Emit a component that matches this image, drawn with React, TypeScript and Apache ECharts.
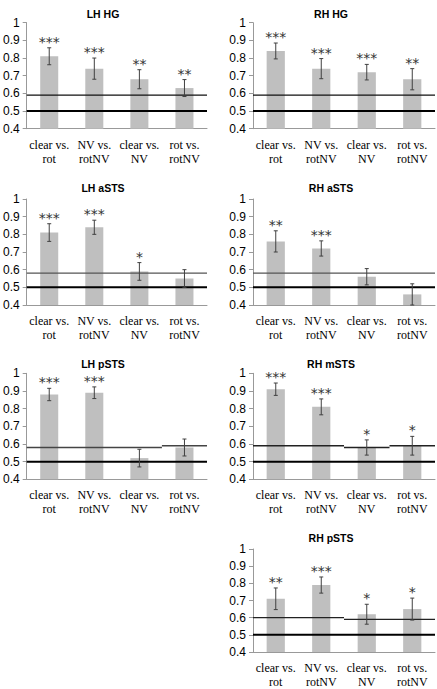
import React, { useEffect, useRef } from "react";
import * as echarts from "echarts";

const categories = ["clear vs.\nrot", "NV vs.\nrotNV", "clear vs.\nNV", "rot vs.\nrotNV"];
const yTicks = [0.4, 0.5, 0.6, 0.7, 0.8, 0.9, 1];

const panelTitles = ["LH HG", "RH HG", "LH aSTS", "RH aSTS", "LH pSTS", "RH mSTS", "RH pSTS"];

const meansLhHg = [0.81, 0.74, 0.68, 0.63];
const errLhHg = [0.048, 0.06, 0.054, 0.048];
const starsLhHg = ["***", "***", "**", "**"];
const threshLhHg = [[0, 3, 0.59]];

const meansRhHg = [0.84, 0.74, 0.72, 0.68];
const errRhHg = [0.045, 0.057, 0.044, 0.06];
const starsRhHg = ["***", "***", "***", "**"];
const threshRhHg = [[0, 3, 0.59]];

const meansLhASts = [0.81, 0.84, 0.59, 0.55];
const errLhASts = [0.05, 0.04, 0.05, 0.05];
const starsLhASts = ["***", "***", "*", ""];
const threshLhASts = [[0, 3, 0.58]];

const meansRhASts = [0.76, 0.72, 0.56, 0.46];
const errRhASts = [0.06, 0.043, 0.046, 0.06];
const starsRhASts = ["**", "***", "", ""];
const threshRhASts = [[0, 3, 0.58]];

const meansLhPSts = [0.88, 0.89, 0.52, 0.58];
const errLhPSts = [0.035, 0.033, 0.05, 0.048];
const starsLhPSts = ["***", "***", "", ""];
const threshLhPSts = [[0, 2, 0.58], [3, 3, 0.59]];

const meansRhMSts = [0.91, 0.81, 0.58, 0.59];
const errRhMSts = [0.035, 0.045, 0.043, 0.053];
const starsRhMSts = ["***", "***", "*", "*"];
const threshRhMSts = [[0, 1, 0.59], [2, 2, 0.58], [3, 3, 0.59]];

const meansRhPSts = [0.71, 0.79, 0.62, 0.65];
const errRhPSts = [0.063, 0.047, 0.058, 0.064];
const starsRhPSts = ["**", "***", "*", "*"];
const threshRhPSts = [[0, 1, 0.6], [2, 3, 0.59]];

const chanceLevel = 0.5;

const panels = [
  { means: meansLhHg, err: errLhHg, stars: starsLhHg, thresh: threshLhHg },
  { means: meansRhHg, err: errRhHg, stars: starsRhHg, thresh: threshRhHg },
  { means: meansLhASts, err: errLhASts, stars: starsLhASts, thresh: threshLhASts },
  { means: meansRhASts, err: errRhASts, stars: starsRhASts, thresh: threshRhASts },
  { means: meansLhPSts, err: errLhPSts, stars: starsLhPSts, thresh: threshLhPSts },
  { means: meansRhMSts, err: errRhMSts, stars: starsRhMSts, thresh: threshRhMSts },
  { means: meansRhPSts, err: errRhPSts, stars: starsRhPSts, thresh: threshRhPSts },
];

// layout (pixels)
const gridPos = [
  { left: 25, top: 22.7 },
  { left: 253, top: 22.7 },
  { left: 25, top: 199 },
  { left: 253, top: 199 },
  { left: 25, top: 373.3 },
  { left: 253, top: 373.3 },
  { left: 253, top: 549 },
];
const titlePos = [
  [103, 14], [331, 14], [103, 188], [331, 188], [103, 364], [331, 364], [331, 538],
];
const threshColors = ["#111", "#111", "#555", "#555", "#444", "#222", "#222"];

export default function App() {
  const ref = useRef<HTMLDivElement>(null);
  useEffect(() => {
    if (!ref.current) return;
    const chart = echarts.init(ref.current, null, { renderer: "svg" });
    const grid: any[] = [];
    const xAxis: any[] = [];
    const yAxis: any[] = [];
    const series: any[] = [];
    const graphic: any[] = [];

    panels.forEach((p, i) => {
      grid.push({ left: gridPos[i].left, top: gridPos[i].top, width: 182, height: 106 });
      xAxis.push({
        type: "category",
        gridIndex: i,
        data: categories,
        axisLine: { lineStyle: { color: "#999", width: 1 } },
        axisTick: { length: 4, lineStyle: { color: "#999" } },
        axisLabel: {
          interval: 0,
          fontFamily: "Liberation Serif",
          fontSize: 12,
          lineHeight: 14,
          color: "#000",
          margin: 9,
        },
      });
      yAxis.push({
        type: "value",
        gridIndex: i,
        min: yTicks[0],
        max: yTicks[yTicks.length - 1],
        interval: 0.1,
        splitLine: { show: false },
        axisLine: { show: true, lineStyle: { color: "#999" } },
        axisTick: { show: true, length: 4, lineStyle: { color: "#999" } },
        axisLabel: {
          fontFamily: "Liberation Sans",
          fontSize: 12,
          color: "#000",
          margin: 7,
          formatter: (v: number) => String(Math.round(v * 10) / 10),
        },
      });
      series.push({
        type: "bar",
        xAxisIndex: i,
        yAxisIndex: i,
        data: p.means,
        barWidth: "40%",
        itemStyle: { color: "#bfbfbf" },
        silent: true,
      });
      const lineColor = threshColors[i];
      const segRender = (width: number, color: string) => (params: any, api: any) => {
        const band = api.size([1, 0])[0];
        const a = api.coord([api.value(0), api.value(2)]);
        const b = api.coord([api.value(1), api.value(2)]);
        return {
          type: "line",
          shape: { x1: a[0] - band / 2, y1: a[1], x2: b[0] + band / 2, y2: b[1] },
          style: { stroke: color, lineWidth: width },
        };
      };
      series.push({
        type: "custom",
        xAxisIndex: i,
        yAxisIndex: i,
        data: p.thresh,
        encode: { x: 0, y: 2 },
        itemStyle: { color: lineColor },
        renderItem: segRender(1.3, lineColor),
        silent: true,
        z: 3,
      });
      series.push({
        type: "custom",
        xAxisIndex: i,
        yAxisIndex: i,
        data: [[0, 3, chanceLevel]],
        encode: { x: 0, y: 2 },
        itemStyle: { color: "#000" },
        renderItem: segRender(2, "#000"),
        silent: true,
        z: 3,
      });
      const stars = p.stars;
      series.push({
        type: "custom",
        xAxisIndex: i,
        yAxisIndex: i,
        data: p.means.map((m, j) => [j, m - p.err[j], m + p.err[j]]),
        encode: { x: 0, y: [1, 2] },
        itemStyle: { color: "#333" },
        renderItem: (params: any, api: any) => {
          const lo = api.coord([api.value(0), api.value(1)]);
          const hi = api.coord([api.value(0), api.value(2)]);
          const x = lo[0];
          const c = 2;
          const st = { stroke: "#404040", lineWidth: 1 };
          const children: any[] = [
            { type: "line", shape: { x1: x, y1: lo[1], x2: x, y2: hi[1] }, style: st },
            { type: "line", shape: { x1: x - c, y1: lo[1], x2: x + c, y2: lo[1] }, style: st },
            { type: "line", shape: { x1: x - c, y1: hi[1], x2: x + c, y2: hi[1] }, style: st },
          ];
          const s = stars[params.dataIndex];
          if (s) {
            children.push({
              type: "text",
              x: x,
              y: hi[1] + 1,
              style: {
                text: s,
                align: "center",
                verticalAlign: "bottom",
                font: '14px "DejaVu Sans"',
                fill: "#333",
              },
            });
          }
          return { type: "group", children };
        },
        silent: true,
        z: 4,
      });
      graphic.push({
        type: "text",
        x: titlePos[i][0],
        y: titlePos[i][1],
        style: {
          text: panelTitles[i],
          fill: "#000",
          font: 'bold 10.5px "Liberation Sans"',
          align: "center",
          verticalAlign: "middle",
        },
      });
    });

    chart.setOption({
      animation: false,
      backgroundColor: "#fff",
      grid,
      xAxis,
      yAxis,
      series,
      graphic,
    });
    return () => chart.dispose();
  }, []);
  return (
    <div
      ref={ref}
      style={{ position: "fixed", left: 0, top: 0, width: 437, height: 689 }}
    />
  );
}
